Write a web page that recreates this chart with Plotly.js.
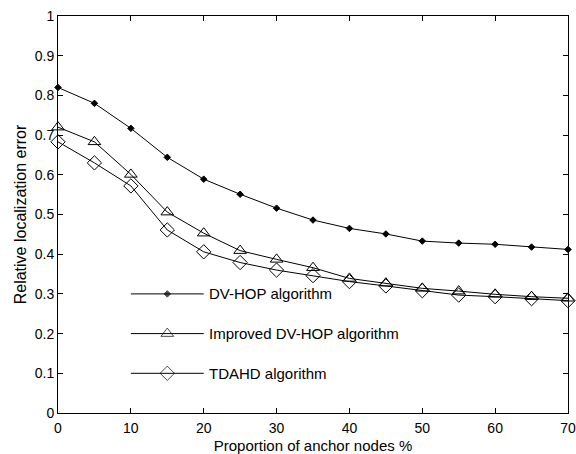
<!DOCTYPE html>
<html><head><meta charset="utf-8">
<script src="https://cdn.plot.ly/plotly-3.0.1.min.js"></script>
<style>body{margin:0;background:#fff}#c{width:576px;height:454px}</style>
</head><body><div id="c"></div>
<script>
const anchorPct = [0,5,10,15,20,25,30,35,40,45,50,55,60,65,70];
const dvhop    = [0.820,0.780,0.717,0.644,0.589,0.551,0.516,0.486,0.465,0.451,0.433,0.428,0.425,0.418,0.412];
const improved = [0.720,0.683,0.601,0.506,0.453,0.409,0.387,0.366,0.339,0.327,0.314,0.307,0.299,0.293,0.289];
const tdahd    = [0.683,0.630,0.572,0.461,0.406,0.379,0.360,0.346,0.331,0.320,0.308,0.297,0.293,0.288,0.283];
const names = ["DV-HOP algorithm","Improved DV-HOP algorithm","TDAHD algorithm"];
const legendY = [0.3,0.2,0.1];
const legendX = [10,15,20];
const xTicks = [0,10,20,30,40,50,60,70];
const yTicks = [0,0.1,0.2,0.3,0.4,0.5,0.6,0.7,0.8,0.9,1];

const FONT = 'Liberation Sans, Arial, sans-serif';
const styles = [
  {symbol:'diamond', size:5},
  {symbol:'triangle-up-open', size:11},
  {symbol:'diamond-open', size:11}
];
const series = [dvhop, improved, tdahd];
const traces = [];
series.forEach((s,i)=>{
  traces.push({x:anchorPct, y:s, type:'scatter', mode:'lines+markers', name:names[i],
    line:{color:'#000', width:1},
    marker:{symbol:styles[i].symbol, size:styles[i].size, color:'#000', line:{color:'#000', width:1}},
    showlegend:false, cliponaxis:false});
  traces.push({x:legendX, y:legendX.map(()=>legendY[i]), type:'scatter', mode:'lines+markers',
    line:{color:'#000', width:1},
    marker:{symbol:styles[i].symbol, size:[0,styles[i].size,0], color:'#000', line:{color:'#000', width:1}},
    showlegend:false, hoverinfo:'skip'});
});
const annotations = names.map((n,i)=>({x:legendX[2]+0.5, y:legendY[i], xref:'x', yref:'y', text:n,
  showarrow:false, xanchor:'left', yanchor:'middle', font:{family:FONT, size:15, color:'#000'}}));

const axisCommon = {showgrid:false, zeroline:false, showline:true, linecolor:'#000', linewidth:1,
  mirror:'ticks', ticks:'inside', ticklen:5, tickcolor:'#000', tickwidth:1,
  tickfont:{family:FONT, size:14, color:'#000'}};

const layout = {
  width:576, height:454, paper_bgcolor:'#fff', plot_bgcolor:'#fff',
  margin:{l:58, r:8, t:16, b:41},
  showlegend:false,
  xaxis:Object.assign({}, axisCommon, {range:[0,70], tickvals:xTicks, ticktext:xTicks.map(String),
    ticklabelstandoff:2,
    title:{text:'Proportion of anchor nodes %', font:{family:FONT, size:15, color:'#000'}, standoff:5}}),
  yaxis:Object.assign({}, axisCommon, {range:[0,1], tickvals:yTicks, ticktext:yTicks.map(v=>String(v)),
    title:{text:'Relative localization error', font:{family:FONT, size:16, color:'#000'}, standoff:4}}),
  annotations:annotations
};
Plotly.newPlot('c', traces, layout, {staticPlot:true});
</script></body></html>
